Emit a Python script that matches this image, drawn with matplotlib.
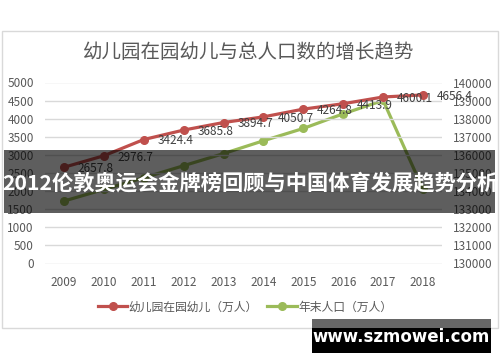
import matplotlib
matplotlib.use("Agg")
import matplotlib.pyplot as plt
from matplotlib.patches import Rectangle
from matplotlib.lines import Line2D

plt.rcParams['font.family'] = ['Noto Sans CJK SC', 'DejaVu Sans']

# data
years = ['2009', '2010', '2011', '2012', '2013', '2014', '2015', '2016', '2017', '2018']
kids = [2657.8, 2976.7, 3424.4, 3685.8, 3894.7, 4050.7, 4264.8, 4413.9, 4600.1, 4656.4]
population = [133450, 134091, 134735, 135404, 136072, 136782, 137462, 138271, 139008, 134100]

title = '幼儿园在园幼儿与总人口数的增长趋势'
kids_label = '幼儿园在园幼儿（万人）'
pop_label = '年末人口（万人）'
banner_text = '2012伦敦奥运会金牌榜回顾与中国体育发展趋势分析'
site_text = 'www.szmowei.com'

RED = '#c0504d'
GREEN = '#9bbb59'
GRID = '#d9d9d9'
TXT = '#595959'

W, H = 500, 362
fig = plt.figure(figsize=(W / 100, H / 100), dpi=100)

# plot area in pixels
left, right, top, bottom = 45, 442, 82.5, 263.5
ax = fig.add_axes([left / W, 1 - bottom / H, (right - left) / W, (bottom - top) / H])
ax2 = ax.twinx()

x = list(range(len(years)))
ax.plot(x, kids, color=RED, lw=2.3, marker='o', ms=5.5, zorder=3, clip_on=False)
ax2.plot(x, population, color=GREEN, lw=2.3, marker='o', ms=5.5, zorder=3, clip_on=False)

for xi, v in zip(x, kids):
    ax.annotate(f'{v:.1f}', (xi, v), xytext=(10, -1), textcoords='offset points',
                ha='left', va='center', fontsize=8.5, color='#404040')

ax.set_xlim(-0.475, 9.475)
ax.set_ylim(0, 5000)
ax.set_yticks(range(0, 5001, 500))
ax2.set_ylim(130000, 140000)
ax2.set_yticks(range(130000, 140001, 1000))
ax.set_xticks(x)
ax.set_xticklabels(years)

for a in (ax, ax2):
    for s in a.spines.values():
        s.set_visible(False)
    a.tick_params(length=0, labelsize=8.5, colors=TXT)
ax.tick_params(axis='y', pad=8)
ax2.tick_params(axis='y', pad=8)
ax.tick_params(axis='x', pad=9)
ax.grid(axis='y', color=GRID, lw=1)
ax.set_axisbelow(True)
ax.set_zorder(2)
ax.patch.set_visible(False)
ax2.set_zorder(1)

# overlay in pixel coords for title, border, legend, banners
ov = fig.add_axes([0, 0, 1, 1], zorder=5)
ov.set_xlim(0, W)
ov.set_ylim(H, 0)
ov.axis('off')
ov.patch.set_visible(False)

ov.add_patch(Rectangle((1.5, 30.5), 496.5, 297.5, fill=False, ec=GRID, lw=1))
ov.text(249, 53, title, ha='center', va='center', fontsize=14, color=TXT)

handles = [Line2D([], [], color=RED, lw=2.3, marker='o', ms=5.5),
           Line2D([], [], color=GREEN, lw=2.3, marker='o', ms=5.5)]
fig.legend(handles, [kids_label, pop_label], loc='center', ncol=2,
           bbox_to_anchor=(245 / W, 1 - 307 / H), frameon=False, fontsize=8.5,
           labelcolor=TXT, handlelength=2.5, handletextpad=0.1, columnspacing=0.8)

ov.add_patch(Rectangle((4, 150), 491, 63, color='black', alpha=0.63, lw=0))
ov.text(250, 184, banner_text, ha='center', va='center', fontsize=15.3,
        fontweight='bold', color='white')

ov.add_patch(Rectangle((312, 319), 179, 9, color='#666666', lw=0))
ov.add_patch(Rectangle((312, 328), 179, 25, color='black', lw=0))
ov.text(401, 337, site_text, ha='center', va='center', fontsize=12,
        fontweight='bold', color='white', family='DejaVu Sans')

fig.savefig('out.png', dpi=100)
